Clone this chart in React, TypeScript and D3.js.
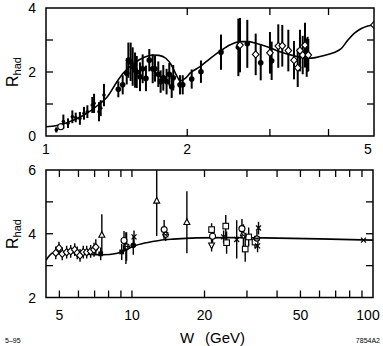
import * as d3 from 'd3';

// R_had vs W, low-energy panel (top) and high-energy panel (bottom)
// model curve
const TOP_CURVE_W = [1.0, 1.05, 1.1, 1.2, 1.3, 1.35, 1.42, 1.46, 1.55, 1.62, 1.69, 1.74, 1.8, 1.85, 1.9, 1.93, 1.98, 2.03, 2.13, 2.25, 2.35, 2.47, 2.59, 2.7, 2.8, 2.95, 3.15, 3.35, 3.6, 3.75, 3.95, 4.1, 4.25, 4.4, 4.55, 4.7, 4.85, 5.0];
const TOP_CURVE_R = [0.29, 0.32, 0.4, 0.64, 1.0, 1.22, 1.72, 1.96, 2.3, 2.46, 2.53, 2.52, 2.43, 2.22, 1.88, 1.72, 1.8, 1.97, 2.17, 2.45, 2.65, 2.85, 2.95, 2.95, 2.9, 2.8, 2.63, 2.52, 2.43, 2.45, 2.53, 2.6, 2.72, 3.0, 3.22, 3.36, 3.44, 3.47];

// data points, top panel
const TOP_W = [1.052, 1.075, 1.089, 1.114, 1.138, 1.157, 1.181, 1.205, 1.225, 1.255, 1.266, 1.297, 1.308, 1.329,
  1.426, 1.457, 1.486, 1.498, 1.515, 1.53, 1.548, 1.561, 1.586, 1.607, 1.633, 1.66, 1.688, 1.707, 1.735, 1.755, 1.778, 1.807, 1.831, 1.853, 1.867, 1.93, 1.956, 2.044, 2.139, 2.36,
  2.57, 2.591, 2.685, 2.798, 2.868, 3.001, 3.026, 3.126, 3.188, 3.284, 3.377, 3.439, 3.477, 3.524, 3.564, 3.594, 3.61, 3.622, 5.0];
const TOP_R = [0.19, 0.29, 0.45, 0.4, 0.6, 0.58, 0.55, 0.71, 0.76, 0.97, 1.02, 0.76, 0.87, 1.28,
  1.46, 1.6, 1.96, 2.37, 2.32, 2.17, 2.06, 2.0, 1.85, 2.1, 1.8, 2.37, 2.1, 2.1, 1.93, 1.7, 1.82, 1.7, 1.93, 1.54, 1.82, 1.6, 1.6, 1.78, 2.01, 2.62,
  2.77, 2.84, 2.88, 2.55, 2.29, 2.6, 2.35, 2.81, 2.82, 2.67, 2.37, 2.13, 2.67, 2.53, 2.84, 2.45, 2.55, 2.53, 3.47];
const TOP_ERR = [0.08, 0.1, 0.22, 0.15, 0.2, 0.15, 0.2, 0.2, 0.2, 0.25, 0.3, 0.3, 0.25, 0.35,
  0.25, 0.3, 0.35, 0.55, 0.6, 0.6, 0.55, 0.5, 0.45, 0.45, 0.4, 0.35, 0.45, 0.4, 0.4, 0.35, 0.4, 0.4, 0.35, 0.35, 0.4, 0.3, 0.3, 0.3, 0.35, 0.55,
  0.9, 0.85, 0.75, 0.65, 0.55, 0.65, 0.6, 0.68, 0.65, 0.65, 0.6, 0.6, 0.65, 0.6, 0.7, 0.6, 0.55, 0.5, 0.05];
const TOP_KIND = ['dot', 'oc', 'dot', 'dot', 'dot', 'dot', 'dot', 'dot', 'dot', 'dot', 'dot', 'dot', 'dot', 'dot',
  'fc', 'fc', 'fc', 'fc', 'fc', 'fc', 'fc', 'fc', 'fc', 'fc', 'fc', 'fc', 'fc', 'fc', 'fc', 'fc', 'fc', 'fc', 'fc', 'fc', 'fc', 'fc', 'fc', 'fc', 'fc', 'fc',
  'fc', 'od', 'fc', 'od', 'fc', 'od', 'fc', 'od', 'od', 'od', 'od', 'od', 'od', 'od', 'od', 'fc', 'fc', 'od', 'od'];

const BOT_CURVE_W = [4.4, 4.55, 4.75, 5.0, 5.5, 6.5, 7.6, 8.6, 9.3, 10.1, 11.5, 13.0, 14.8, 18.6, 25, 35, 60, 100];
const BOT_CURVE_R = [3.17, 3.32, 3.42, 3.45, 3.42, 3.36, 3.34, 3.38, 3.47, 3.6, 3.72, 3.79, 3.83, 3.87, 3.88, 3.87, 3.84, 3.8];

const BOT_W = [4.83, 4.98, 5.14, 5.36, 5.57, 5.79, 5.93, 6.09, 6.28, 6.49, 6.74, 6.96, 7.08, 7.42, 7.5,
  9.07, 9.27, 9.44, 9.5, 10.13, 10.2, 12.67, 13.6, 13.8, 16.9,
  21.4, 21.6, 21.4, 24.5, 24.7, 24.0, 27.2, 28.6, 29.5, 30.5, 29.0, 32.4, 33.5, 33.2, 33.0, 91.3];
const BOT_R = [3.4, 3.55, 3.37, 3.42, 3.45, 3.5, 3.4, 3.32, 3.42, 3.42, 3.45, 3.5, 3.58, 3.37, 3.96,
  3.43, 3.79, 3.55, 3.6, 3.64, 3.9, 5.03, 4.13, 3.97, 4.36,
  4.13, 3.92, 3.64, 4.24, 3.72, 3.9, 3.82, 4.16, 3.52, 3.9, 3.95, 3.74, 4.18, 3.62, 3.85, 3.8];
const BOT_ERR = [0.2, 0.2, 0.2, 0.2, 0.2, 0.2, 0.2, 0.2, 0.2, 0.2, 0.2, 0.22, 0.25, 0.2, 0.65,
  0.25, 0.3, 0.5, 0.45, 0.3, 0.2, 1.1, 0.3, 0.2, 0.97,
  0.2, 0.2, 0.2, 0.35, 0.35, 0.2, 0.6, 0.3, 0.4, 0.3, 0.35, 0.2, 0.2, 0.2, 0.25, 0.03];
const BOT_KIND = ['od', 'od', 'od', 'od', 'od', 'od', 'od', 'od', 'od', 'od', 'od', 'od', 'od', 'fs', 'tri',
  'fs', 'oc', 'fc', 'star', 'fc', 'x', 'tri', 'oc', 'star', 'tri',
  'sq', 'oc', 'itri', 'sq', 'sq', 'x', 'x', 'oc', 'sq', 'sq', 'star', 'sq', 'x', 'x', 'star', 'x'];

const TOP_XTICKS = [2, 3, 4];
const TOP_XLABELS = [1, 2, 5];
const TOP_YTICKS = [1, 2, 3];
const TOP_YLABELS = [0, 2, 4];
const BOT_XTICKS = [5, 6, 7, 8, 9, 10, 20, 30, 40, 50, 60, 70, 80, 90];
const BOT_XLABELS = [5, 10, 20, 50, 100];
const BOT_YTICKS = [3, 4, 5];
const BOT_YLABELS = [2, 4, 6];

const FONT = 'Liberation Sans, Arial, sans-serif';

function Marker({ kind, x, y }: { kind: string; x: number; y: number }) {
  const s = 'black';
  switch (kind) {
    case 'dot':
      return <circle cx={x} cy={y} r={1.8} fill={s} />;
    case 'fc':
      return <circle cx={x} cy={y} r={2.8} fill={s} />;
    case 'oc':
      return <circle cx={x} cy={y} r={3} fill="white" stroke={s} strokeWidth={1.1} />;
    case 'od':
      return <path d={`M${x},${y - 3.6}L${x + 3.3},${y}L${x},${y + 3.6}L${x - 3.3},${y}Z`} fill="white" stroke={s} strokeWidth={1.1} />;
    case 'fs':
      return <rect x={x - 2.4} y={y - 2.4} width={4.8} height={4.8} fill={s} />;
    case 'sq':
      return <rect x={x - 2.8} y={y - 2.8} width={5.6} height={5.6} fill="white" stroke={s} strokeWidth={1.1} />;
    case 'tri':
      return <path d={`M${x},${y - 3.4}L${x + 3},${y + 2.2}L${x - 3},${y + 2.2}Z`} fill="white" stroke={s} strokeWidth={1.1} />;
    case 'itri':
      return <path d={`M${x},${y + 3.4}L${x + 3},${y - 2.2}L${x - 3},${y - 2.2}Z`} fill="white" stroke={s} strokeWidth={1.1} />;
    case 'x':
      return <path d={`M${x - 2.5},${y - 2.5}L${x + 2.5},${y + 2.5}M${x - 2.5},${y + 2.5}L${x + 2.5},${y - 2.5}`} stroke={s} strokeWidth={1.2} />;
    case 'star':
      return (
        <g>
          <circle cx={x} cy={y} r={2.6} fill="white" stroke={s} strokeWidth={1.1} />
          <path d={`M${x - 3.5},${y}L${x + 3.5},${y}M${x - 2.5},${y - 2.5}L${x + 2.5},${y + 2.5}M${x - 2.5},${y + 2.5}L${x + 2.5},${y - 2.5}`} stroke={s} strokeWidth={0.9} />
        </g>
      );
    default:
      return null;
  }
}

type PanelProps = {
  x: d3.ScaleLogarithmic<number, number>;
  y: d3.ScaleLinear<number, number>;
  curveW: number[]; curveR: number[];
  W: number[]; R: number[]; E: number[]; K: string[];
  xticks: number[]; xlabels: number[]; yticks: number[]; ylabels: number[];
  barWidth: number; labelY: number; clipId: string;
};

function Panel(p: PanelProps) {
  const [x0, x1] = p.x.range();
  const [y0, y1] = p.y.range(); // y0 bottom, y1 top
  const tick = 7;
  const line = d3.line<number>()
    .x((_, i) => p.x(p.curveW[i]))
    .y(d => p.y(d))
    .curve(d3.curveMonotoneX);
  return (
    <g>
      <defs>
        <clipPath id={p.clipId}>
          <rect x={x0} y={y1} width={x1 - x0} height={y0 - y1} />
        </clipPath>
      </defs>
      <g clipPath={`url(#${p.clipId})`}>
        <path d={line(p.curveR) || ''} fill="none" stroke="black" strokeWidth={1.6} />
        {p.W.map((w, i) => (
          <line key={'e' + i} x1={p.x(w)} x2={p.x(w)} y1={p.y(p.R[i] - p.E[i])} y2={p.y(p.R[i] + p.E[i])}
            stroke="black" strokeWidth={p.barWidth} />
        ))}
        {p.W.map((w, i) => (
          <Marker key={'m' + i} kind={p.K[i]} x={p.x(w)} y={p.y(p.R[i])} />
        ))}
      </g>
      <rect x={x0} y={y1} width={x1 - x0} height={y0 - y1} fill="none" stroke="black" strokeWidth={1.5} />
      {p.xticks.map(t => (
        <g key={'xt' + t}>
          <line x1={p.x(t)} x2={p.x(t)} y1={y0} y2={y0 - tick} stroke="black" strokeWidth={1.3} />
          <line x1={p.x(t)} x2={p.x(t)} y1={y1} y2={y1 + tick} stroke="black" strokeWidth={1.3} />
        </g>
      ))}
      {p.yticks.map(t => (
        <g key={'yt' + t}>
          <line x1={x0} x2={x0 + tick} y1={p.y(t)} y2={p.y(t)} stroke="black" strokeWidth={1.3} />
          <line x1={x1} x2={x1 - tick} y1={p.y(t)} y2={p.y(t)} stroke="black" strokeWidth={1.3} />
        </g>
      ))}
      {p.xlabels.map(t => (
        <text key={'xl' + t} x={Math.min(p.x(t), 368)} y={p.labelY} textAnchor="middle" fontSize={14} fontFamily={FONT}>{t}</text>
      ))}
      {p.ylabels.map(t => (
        <text key={'yl' + t} x={36} y={p.y(t)} dy="0.36em" textAnchor="end" fontSize={14} fontFamily={FONT}>{t}</text>
      ))}
    </g>
  );
}

export default function App() {
  const width = 383;
  const height = 346;

  const xTop = d3.scaleLog().domain([1, 5]).range([46, 374]);
  const yTop = d3.scaleLinear().domain([0, 4]).range([136, 8]);
  const xBot = d3.scaleLog().domain([4.4, 100]).range([46, 373]);
  const yBot = d3.scaleLinear().domain([2, 6]).range([297.5, 170]);

  return (
    <svg width={width} height={height} style={{ position: 'absolute', left: 0, top: 0, background: 'white' }}>
      <Panel x={xTop} y={yTop} curveW={TOP_CURVE_W} curveR={TOP_CURVE_R}
        W={TOP_W} R={TOP_R} E={TOP_ERR} K={TOP_KIND}
        xticks={TOP_XTICKS} xlabels={TOP_XLABELS} yticks={TOP_YTICKS} ylabels={TOP_YLABELS}
        barWidth={2} labelY={154} clipId="clipTop" />
      <Panel x={xBot} y={yBot} curveW={BOT_CURVE_W} curveR={BOT_CURVE_R}
        W={BOT_W} R={BOT_R} E={BOT_ERR} K={BOT_KIND}
        xticks={BOT_XTICKS} xlabels={BOT_XLABELS} yticks={BOT_YTICKS} ylabels={BOT_YLABELS}
        barWidth={1.4} labelY={320} clipId="clipBot" />

      <text transform="translate(18,72) rotate(-90)" textAnchor="middle" fontSize={16} fontFamily={FONT}>
        R<tspan fontSize={11} dy={3}>had</tspan>
      </text>
      <text transform="translate(18,234) rotate(-90)" textAnchor="middle" fontSize={16} fontFamily={FONT}>
        R<tspan fontSize={11} dy={3}>had</tspan>
      </text>

      <text x={180} y={343} fontSize={15} fontFamily={FONT}>W</text>
      <text x={205} y={343} fontSize={15} fontFamily={FONT}>(GeV)</text>
      <text x={5} y={343} fontSize={7} fontFamily={FONT}>5–95</text>
      <text x={380} y={343} textAnchor="end" fontSize={7} fontFamily={FONT}>7854A2</text>
    </svg>
  );
}
